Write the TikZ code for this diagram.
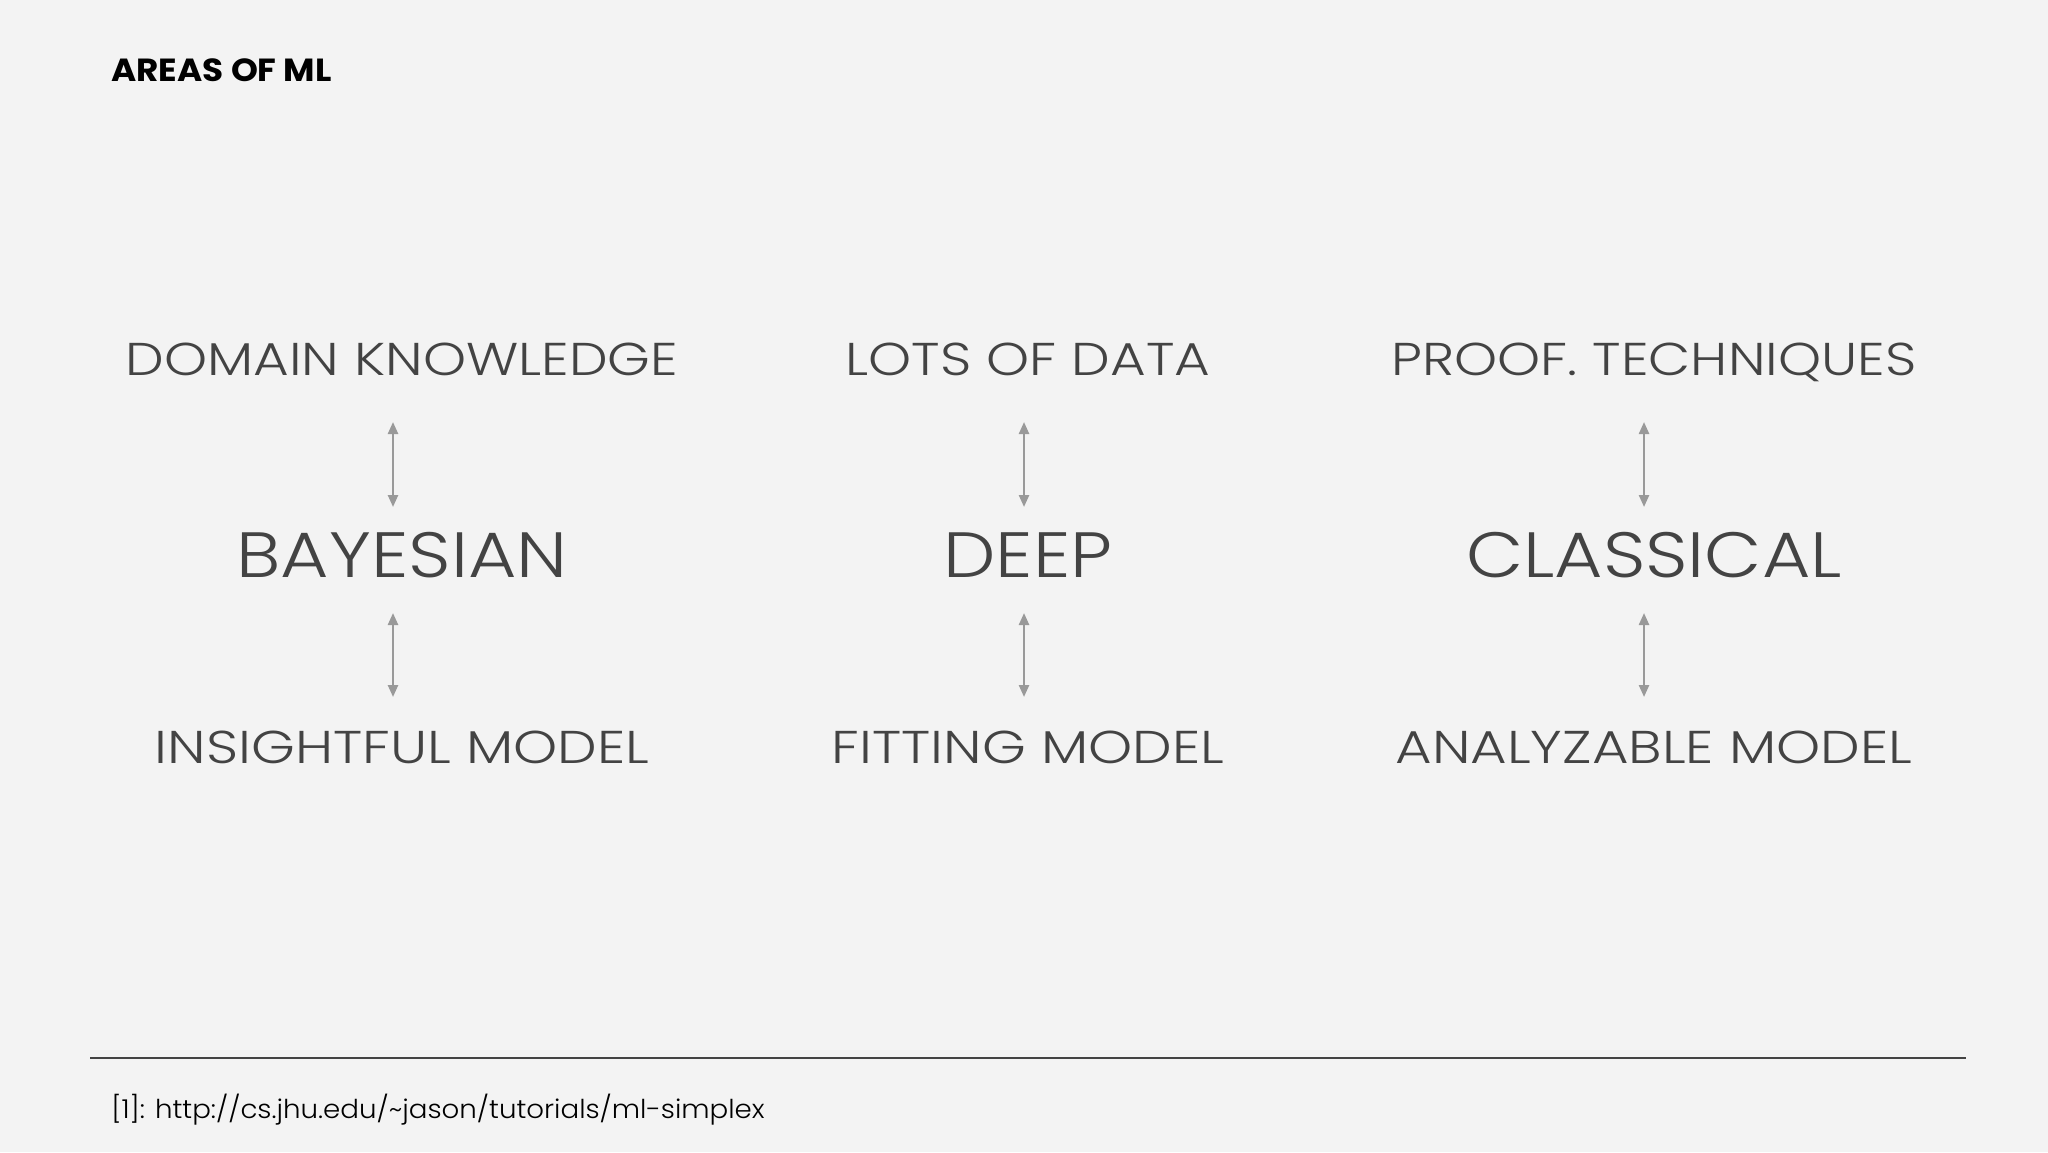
\documentclass[tikz,border=0pt]{standalone}
\usepackage{fontspec}
\setmainfont{Poppins}
\newfontfamily\lightf{Poppins Light}[FakeStretch=1.19]
\newfontfamily\lowf{Poppins Light}[FakeStretch=1.22]
\newfontfamily\bigf{Poppins Light}[FakeStretch=1.16]
\newfontfamily\titlef{Poppins}[FakeStretch=1.07]
\newfontfamily\footf{Poppins Light}[FakeStretch=1.065]
\usetikzlibrary{arrows.meta}
\definecolor{bgc}{HTML}{F3F3F3}
\definecolor{txt}{HTML}{434343}
\definecolor{arr}{HTML}{999999}
\begin{document}
\begin{tikzpicture}[x=0.5pt,y=-0.5pt,
  lbl/.style={text=txt,inner sep=0pt,anchor=base,font=\lightf\fontsize{23}{26}\selectfont},
  low/.style={text=txt,inner sep=0pt,anchor=base,font=\lowf\fontsize{23}{26}\selectfont},
  big/.style={text=txt,inner sep=0pt,anchor=base,font=\bigf\fontsize{32}{36}\selectfont},
  dbl/.style={draw=arr,line width=1.2pt,{Triangle[length=6pt,width=5pt]}-{Triangle[length=6pt,width=5pt]}}]
\fill[bgc] (0,0) rectangle (2048,1152);
\useasboundingbox (0,0) rectangle (2048,1152);
\node[anchor=base west,inner sep=0pt,font=\titlef\fontsize{16}{18}\selectfont\bfseries] (title) at (111,81) {AREAS OF ML};
\foreach \n/\cx/\ax/\t/\m/\b in {a/402/393/DOMAIN KNOWLEDGE/BAYESIAN/INSIGHTFUL MODEL,
  b/1028/1024/LOTS OF DATA/DEEP/FITTING MODEL,
  c/1654/1644/PROOF. TECHNIQUES/CLASSICAL/ANALYZABLE MODEL}{
  \node[lbl] (\n top) at (\cx,375) {\t};
  \node[big] (\n mid) at (\cx,577) {\m};
  \node[low] (\n bot) at (\cx,763) {\b};
  \coordinate (\n t1) at (\ax,422);
  \coordinate (\n t2) at (\ax,507);
  \coordinate (\n b1) at (\ax,613);
  \coordinate (\n b2) at (\ax,697);
  \draw[dbl] (\n t1) -- (\n t2);
  \draw[dbl] (\n b1) -- (\n b2);
}
\coordinate (l1) at (90,1058);
\coordinate (l2) at (1966,1058);
\draw[txt,line width=1pt] (l1) -- (l2);
\node[anchor=base west,inner sep=0pt,text=black,font=\footf\fontsize{13}{15}\selectfont] (foot) at (111,1118) {[1]: http://cs.jhu.edu/\textasciitilde jason/tutorials/ml-simplex};
\end{tikzpicture}
\end{document}
